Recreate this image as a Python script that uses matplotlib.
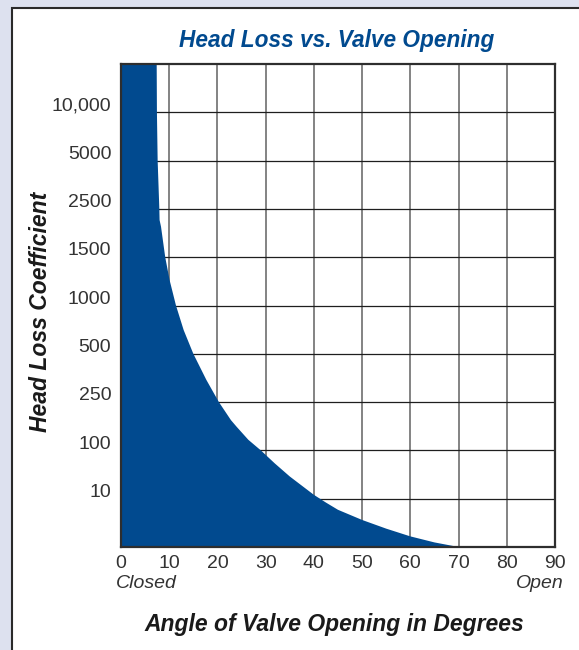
import numpy as np
import matplotlib
matplotlib.use('Agg')
import matplotlib.pyplot as plt
from matplotlib.patches import Rectangle

plt.rcParams['font.family'] = ['Liberation Sans', 'DejaVu Sans']

# y axis is evenly spaced by label, not by value
coef_ticks = [10, 100, 250, 500, 1000, 1500, 2500, 5000, 10000]
coef_labels = ['10', '100', '250', '500', '1000', '1500', '2500', '5000', '10,000']
scale_vals = [0] + coef_ticks + [15000]
scale_pos = np.arange(len(scale_vals))

angle_ticks = [0, 10, 20, 30, 40, 50, 60, 70, 80, 90]

# boundary of the filled region (angle in degrees, head loss coefficient)
curve_angle = [7.4, 7.45, 7.6, 7.95, 8.0, 8.3, 9.17, 10.07, 11.4, 13.0, 15.0, 17.7,
               20.3, 22.8, 24.0, 26.4, 29.0, 31.9, 35.0, 37.5, 40.0, 42.5, 45.0,
               50.0, 55.0, 60.0, 65.0, 70.0]
curve_coef = [15000, 10000, 5000, 2500, 2270, 2130, 1500, 1265, 1000, 745, 500, 365,
              250, 194, 173, 133, 100, 75.7, 51.4, 34.3, 17.2, 9.2, 7.7,
              5.6, 3.8, 2.2, 0.95, 0]

blue = '#014a8f'

fig = plt.figure(figsize=(5.79, 6.5), dpi=100)
fig.patch.set_facecolor('#dde1ef')
fig.patches.append(Rectangle((12/579, -0.05), 1.2, 1.05 - 8/650, transform=fig.transFigure,
                             facecolor='white', edgecolor='#2a2a2a', lw=1.5, zorder=-5))

ax = fig.add_axes([121/579, 1 - 547/650, 434/579, 483/650])
ax.set_zorder(2)
ax.set_facecolor('white')
ax.set_yscale('function', functions=(lambda v: np.interp(v, scale_vals, scale_pos),
                                     lambda p: np.interp(p, scale_pos, scale_vals)))
ax.set_xlim(0, 90)
ax.set_ylim(0, 15000)

xs = [0, 0] + curve_angle
ys = [0, 15000] + curve_coef
ax.fill(xs, ys, color=blue, lw=0, zorder=3)

for a in angle_ticks[1:-1]:
    ax.axvline(a, color='#7a7a7a', lw=1.3, zorder=1)
for c in coef_ticks:
    ax.axhline(c, color='#1e1e1e', lw=0.9, zorder=2)

for s in ax.spines.values():
    s.set_color('#2e2e2e')
    s.set_linewidth(1.6)
    s.set_zorder(5)

ax.set_xticks(angle_ticks)
ax.set_xticklabels([str(a) for a in angle_ticks], fontsize=14, color='#333333')
ax.tick_params(axis='x', length=0, pad=6)
ax.set_yticks([])
ax.minorticks_off()
for c, lab in zip(coef_ticks, coef_labels):
    ax.annotate(lab, xy=(0, c), xycoords=('axes fraction', 'data'), xytext=(-7, 4.5),
                textcoords='offset points', ha='right', va='center',
                fontsize=14, color='#333333', annotation_clip=False)

ax.annotate('Closed', xy=(0, 0), xycoords='axes fraction', xytext=(-4, -26),
            textcoords='offset points', ha='left', va='center', fontsize=14,
            style='italic', color='#333333', annotation_clip=False)
ax.annotate('Open', xy=(1, 0), xycoords='axes fraction', xytext=(6, -26),
            textcoords='offset points', ha='right', va='center', fontsize=14,
            style='italic', color='#333333', annotation_clip=False)

fig.text(337/579, 1 - 41/650, 'Head Loss vs. Valve Opening', ha='center', va='center',
         fontsize=16.3, fontweight='bold', style='italic', color=blue)
fig.text(334/579, 1 - 625/650, 'Angle of Valve Opening in Degrees', ha='center', va='center',
         fontsize=16.5, fontweight='bold', style='italic', color='#1a1a1a')
fig.text(41/579, 1 - 312/650, 'Head Loss Coefficient', ha='center', va='center', rotation=90,
         fontsize=16.5, fontweight='bold', style='italic', color='#1a1a1a')

fig.savefig('out.png', dpi=100, facecolor=fig.get_facecolor())
